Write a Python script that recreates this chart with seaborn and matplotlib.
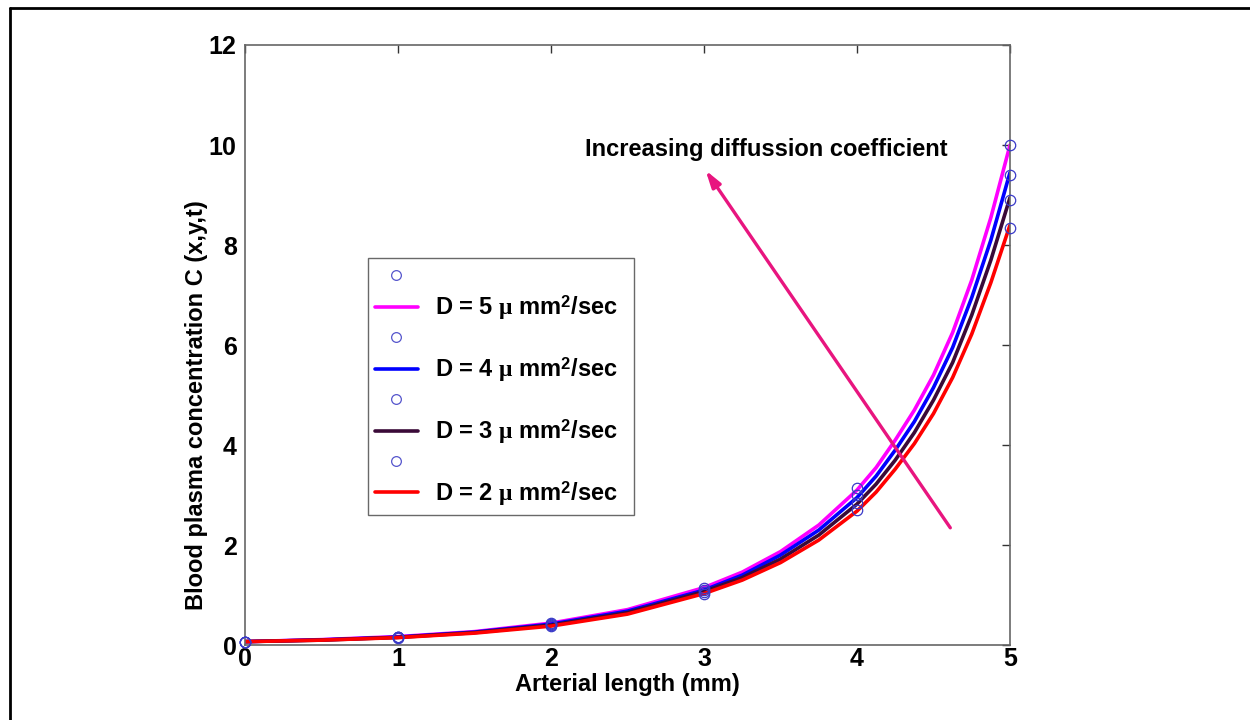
import numpy as np
import pandas as pd
import matplotlib
matplotlib.use("Agg")
import matplotlib.pyplot as plt
from matplotlib.lines import Line2D
import seaborn as sns

# ---- data ----
x_line = [0, 0.5, 1, 1.5, 2, 2.5, 3, 3.25, 3.5, 3.75, 4, 4.125, 4.25, 4.375,
          4.5, 4.625, 4.75, 4.875, 5]
d5_line = [0.07, 0.11, 0.17, 0.27, 0.44, 0.71, 1.15, 1.46, 1.87, 2.40, 3.10,
           3.55, 4.10, 4.70, 5.40, 6.25, 7.30, 8.55, 10.00]
d4_line = [0.07, 0.105, 0.16, 0.26, 0.42, 0.68, 1.10, 1.40, 1.80, 2.30, 2.95,
           3.38, 3.90, 4.47, 5.15, 5.95, 6.95, 8.10, 9.45]
d3_line = [0.07, 0.10, 0.155, 0.25, 0.40, 0.65, 1.07, 1.35, 1.72, 2.20, 2.82,
           3.22, 3.70, 4.25, 4.90, 5.65, 6.60, 7.70, 8.95]
d2_line = [0.07, 0.10, 0.15, 0.24, 0.38, 0.62, 1.03, 1.30, 1.65, 2.10, 2.68,
           3.06, 3.52, 4.03, 4.63, 5.35, 6.22, 7.25, 8.40]

x_pts = [0, 1, 2, 3, 4, 5]
d5_pts = [0.07, 0.17, 0.44, 1.15, 3.15, 10.00]
d4_pts = [0.07, 0.16, 0.42, 1.10, 3.00, 9.40]
d3_pts = [0.07, 0.155, 0.40, 1.07, 2.85, 8.90]
d2_pts = [0.07, 0.15, 0.38, 1.03, 2.70, 8.35]

labels = ["D = 5 $\\mu$ mm$^\\mathbf{2}$/sec", "D = 4 $\\mu$ mm$^\\mathbf{2}$/sec",
          "D = 3 $\\mu$ mm$^\\mathbf{2}$/sec", "D = 2 $\\mu$ mm$^\\mathbf{2}$/sec"]
colors = ["#ff00ff", "#0000ff", "#3a0a38", "#ff0000"]
x_ticks = [0, 1, 2, 3, 4, 5]
y_ticks = [0, 2, 4, 6, 8, 10, 12]

sns.set_style("white")
plt.rcParams["font.family"] = ["Liberation Sans", "DejaVu Sans"]
plt.rcParams["font.weight"] = "bold"
plt.rcParams["text.color"] = "black"
plt.rcParams["axes.labelcolor"] = "black"
plt.rcParams["xtick.color"] = "black"
plt.rcParams["ytick.color"] = "black"
plt.rcParams["mathtext.fontset"] = "custom"
plt.rcParams["mathtext.rm"] = "Liberation Sans:bold"
plt.rcParams["mathtext.bf"] = "Liberation Sans:bold"
plt.rcParams["mathtext.it"] = "Liberation Serif"

fig = plt.figure(figsize=(12.5, 7.2), dpi=100)
ax = fig.add_axes([0.196, 0.104, 0.612, 0.8335])

line_sets = [d5_line, d4_line, d3_line, d2_line]
pt_sets = [d5_pts, d4_pts, d3_pts, d2_pts]
marker_edge = "#3a3ac8"

for ys, col in zip(line_sets, colors):
    sns.lineplot(x=x_line, y=ys, ax=ax, color=col, linewidth=2.6,
                 legend=False, sort=True, zorder=2)
for ys in pt_sets:
    sns.lineplot(x=x_pts, y=ys, ax=ax, color=marker_edge, linestyle="",
                 marker="o", markersize=7.5, markerfacecolor="none",
                 markeredgecolor=marker_edge, markeredgewidth=0.9,
                 legend=False, zorder=3, clip_on=False)

ax.set_xlim(0, 5)
ax.set_ylim(0, 12)
ax.set_xticks(x_ticks)
ax.set_yticks(y_ticks)
ax.set_xticklabels([str(v) for v in x_ticks], fontsize=18, fontweight="bold")
ax.set_yticklabels([str(v) for v in y_ticks], fontsize=18, fontweight="bold")
ax.tick_params(direction="in", length=6, width=1, top=True, right=True,
               colors="#333333", labelcolor="black")
ax.tick_params(axis="x", pad=1)
ax.tick_params(axis="y", pad=6)
for s in ax.spines.values():
    s.set_color("#666666")
    s.set_linewidth(1.2)
    s.set_visible(True)

ax.set_xlabel("Arterial length (mm)", fontsize=17, fontweight="bold")
ax.set_ylabel("Blood plasma concentration C (x,y,t)", fontsize=17,
              fontweight="bold")
ax.xaxis.set_label_coords(0.5, -0.046)
ax.yaxis.set_label_coords(-0.049, 0.40)

# legend: marker entry (blank) then line entry for each series
handles = []
hlabels = []
for col, lab in zip(colors, labels):
    handles.append(Line2D([], [], linestyle="", marker="o", markersize=7,
                          markerfacecolor="none", markeredgecolor="#5555cc",
                          markeredgewidth=0.9))
    hlabels.append(" ")
    handles.append(Line2D([], [], color=col, linewidth=2.6))
    hlabels.append(lab)
leg = ax.legend(handles, hlabels, loc="upper left",
                bbox_to_anchor=(0.161, 0.0, 0.348, 0.645), mode="expand",
                fontsize=17, frameon=True, fancybox=False, edgecolor="#444444",
                handlelength=1.8, handletextpad=0.75, labelspacing=0.215,
                borderpad=0.3, borderaxespad=0.0)
leg.get_frame().set_linewidth(1.0)

# annotation arrow
ax.annotate("", xy=(3.0, 9.54), xytext=(4.62, 2.3),
            arrowprops=dict(arrowstyle="-|>,head_length=1.0,head_width=0.3",
                            color="#e8157f", lw=2.4))
ax.text(2.22, 9.92, "Increasing diffussion coefficient", fontsize=17,
        fontweight="bold", ha="left", va="center")

# figure frame (top and left edge visible)
fig.add_artist(Line2D([0.008, 1.0], [0.989, 0.989], transform=fig.transFigure,
                      color="black", linewidth=2))
fig.add_artist(Line2D([0.008, 0.008], [0.0, 0.989], transform=fig.transFigure,
                      color="black", linewidth=2))

fig.savefig("out.png", dpi=100)
